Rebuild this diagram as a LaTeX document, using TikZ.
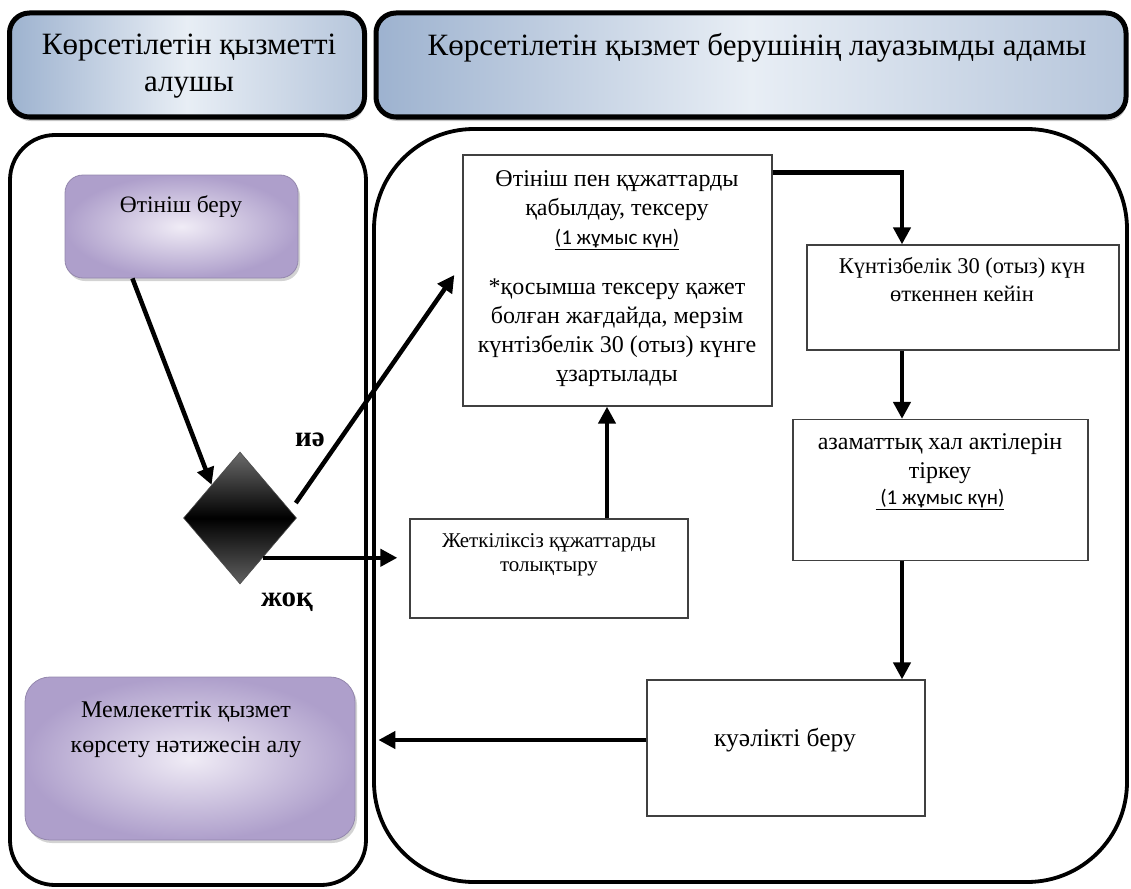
\documentclass[tikz,border=0pt]{standalone}
\usepackage{fontspec}
\setmainfont{Liberation Serif}
\newfontfamily\calib{Carlito}
\usetikzlibrary{shapes.geometric,arrows.meta,calc,shadows}
\definecolor{hdrdark}{HTML}{9DB2CF}
\definecolor{hdrlight}{HTML}{E8EEF5}
\definecolor{purdark}{HTML}{AE9FCB}
\definecolor{purlight}{HTML}{F0ECF6}
\begin{document}
\begin{tikzpicture}[x=1pt,y=-1pt,
  header/.style={draw=black, line width=5pt, rounded corners=20pt, left color=hdrdark, right color=hdrdark!75!white, middle color=hdrlight, inner sep=0pt,
    drop shadow={shadow xshift=1pt, shadow yshift=-4pt, opacity=0.45}},
  lane/.style={draw=black, line width=3.8pt, inner sep=0pt},
  purbox/.style={inner color=purlight, outer color=purdark, draw=purdark!85!black, line width=0.8pt, inner sep=0pt,
    drop shadow={shadow xshift=2pt, shadow yshift=-3pt, opacity=0.35}},
  stepbox/.style={draw=black!75, line width=1.3pt, fill=white, inner sep=0pt},
  txt/.style={align=center, inner sep=0pt, font=\fontsize{24}{29}\selectfont},
  hdrtxt/.style={align=center, inner sep=0pt, font=\fontsize{31}{37}\selectfont},
  lbl/.style={inner sep=0pt, font=\fontsize{29}{32}\selectfont\bfseries},
  arr/.style={line width=4.5pt, -{Triangle[width=17pt,length=17pt]}},
]
\useasboundingbox (0,0) rectangle (1131,888);

% headers
\node[header, minimum width=355pt, minimum height=104pt] (h1) at (187,65) {};
\node[header, minimum width=750pt, minimum height=104pt] (h2) at (751,65) {};
\node[hdrtxt] (h1t) at (189,66.5) {Көрсетілетін қызметті\\алушы};
\node[hdrtxt, anchor=center] (h2t) at (757,48) {Көрсетілетін қызмет берушінің лауазымды адамы};

% lanes
\node[lane, rounded corners=45pt, minimum width=356pt, minimum height=750pt] (laneL) at (188,510) {};
\node[lane, rounded corners=100pt, minimum width=753pt, minimum height=753pt] (laneR) at (750.5,505.5) {};

% purple boxes
\node[purbox, rounded corners=18pt, minimum width=233pt, minimum height=103pt] (ot) at (181.5,226.5) {};
\node[txt, font=\fontsize{23.5}{29}\selectfont] (ott) at (181,207) {Өтініш беру};
\node[purbox, rounded corners=25pt, minimum width=330pt, minimum height=163pt] (mem) at (190,758.5) {};
\node[txt, font=\fontsize{24}{35}\selectfont] (memt) at (186,730) {Мемлекеттік қызмет\\көрсету нәтижесін алу};

% decision
\node[diamond, aspect=0.856, minimum width=113pt, minimum height=132pt, inner sep=0pt,
      top color=black!58, bottom color=black!62, middle color=black, draw=black!70, line width=0.6pt] (dia) at (240,518) {};
\node[lbl] (ia) at (310,440) {иә};
\node[lbl] (jok) at (287,602) {жоқ};

% step boxes
\node[stepbox, minimum width=309pt, minimum height=251pt] (b1) at (617.5,280.5) {};
\node[txt] (b1t) at (617,278.5) {Өтініш пен құжаттарды\\қабылдау, тексеру\\{\calib\fontsize{21}{22}\selectfont\underline{(1 жұмыс күн)}}\\[21pt]*қосымша тексеру қажет\\болған жағдайда, мерзім\\күнтізбелік 30 (отыз) күнге\\ұзартылады};

\node[stepbox, minimum width=312pt, minimum height=105pt] (b2) at (963,297.5) {};
\node[txt, font=\fontsize{22.5}{28}\selectfont] (b2t) at (962,280) {Күнтізбелік 30 (отыз) күн\\өткеннен кейін};

\node[stepbox, minimum width=295pt, minimum height=141pt] (b3) at (940.5,490) {};
\node[txt] (b3t) at (940,471.5) {азаматтық хал актілерін\\тіркеу\\[-3pt]{\calib\fontsize{21}{22}\selectfont\underline{\ (1 жұмыс күн)}}};

\node[stepbox, minimum width=278pt, minimum height=99pt] (jet) at (549,568.5) {};
\node[txt, font=\fontsize{21}{24}\selectfont] (jett) at (549,555) {Жеткіліксіз құжаттарды\\толықтыру};

\node[stepbox, minimum width=278pt, minimum height=136pt] (b4) at (786,748) {};
\node[txt, font=\fontsize{25.5}{29}\selectfont] (b4t) at (785,740) {куәлікті беру};

% connectors
\coordinate (col) at (902,0);
\draw[arr] ($(ot.south west)!0.29!(ot.south east)$) -- (dia.north west);
\coordinate (iastart) at ($(dia.east)+(-1,-15)$);
\coordinate (iaend) at ($(b1.west)+(-8,-5.5)$);
\draw[arr] (iastart) -- (iaend);
\coordinate (jokstart) at ($(dia.east)!0.6!(dia.south)$);
\draw[arr] (jokstart) -- ([xshift=-12pt]jokstart -| jet.west);
\coordinate (jetup) at ($(jet.north)+(58,0)$);
\draw[arr] (jetup) -- (jetup |- b1.south);
\coordinate (b1out) at ($(b1.north east)+(0,18)$);
\draw[arr] (b1out) -| (col |- b2.north);
\draw[arr] (col |- b2.south) -- (col |- b3.north);
\draw[arr] (col |- b3.south) -- (col |- b4.north);
\coordinate (memin) at ($(mem.east)+(23,-18.5)$);
\draw[arr] (b4.west |- memin) -- (memin);
\end{tikzpicture}
\end{document}
